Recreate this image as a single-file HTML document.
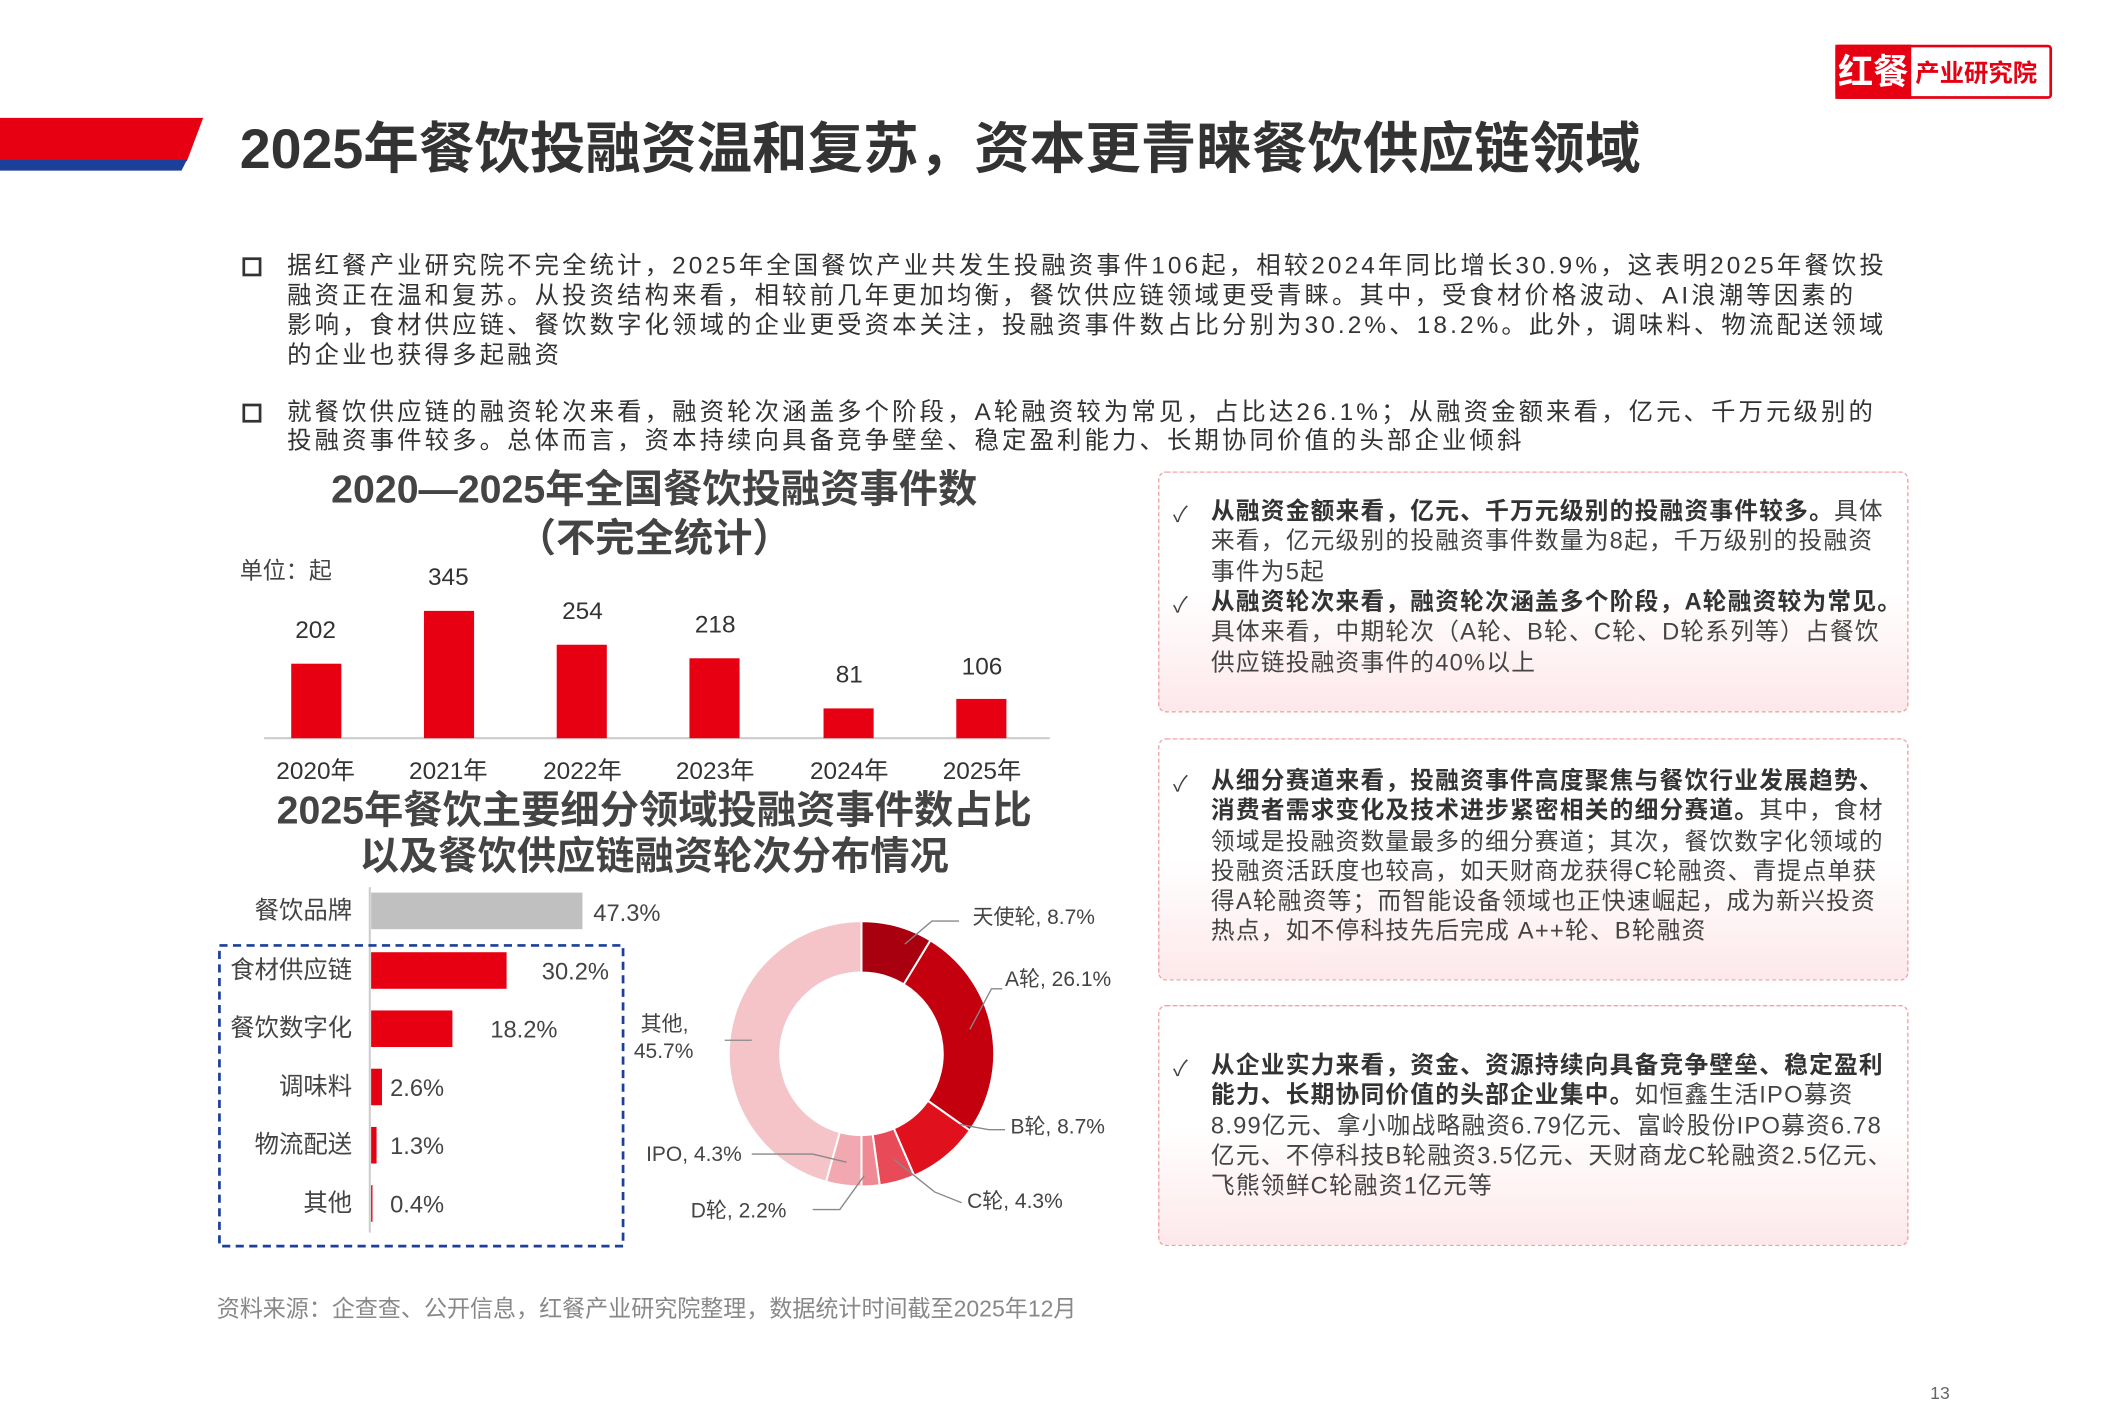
<!DOCTYPE html>
<html><head><meta charset="utf-8">
<style>
html,body{margin:0;padding:0;background:#fff;overflow:hidden}
body{width:2126px;height:1418px}
#p{position:absolute;left:0;top:0;width:1572px;height:1048px;transform:scale(1.3545);transform-origin:0 0;font-family:"Liberation Sans","Noto Sans CJK SC",sans-serif;color:#333}
.a{position:absolute;white-space:nowrap}
.para{position:absolute;left:212px;font-size:18px;letter-spacing:2.3px;line-height:22px;color:#333;white-space:nowrap}
.sq{position:absolute;left:179px;width:10px;height:10px;border:2px solid #333}
.box{position:absolute;left:855px;width:552px;border:1.5px dashed #f2a0a8;border-radius:6px;background:linear-gradient(to bottom,#fff 0%,#fff 50%,#fde8ea 100%)}
.bt{position:absolute;left:894px;font-size:17.5px;letter-spacing:0.9px;line-height:22.3px;color:#444;white-space:nowrap}
.ck{position:absolute;left:866px;font-size:16px;color:#444}
b{color:#333}
</style></head><body><div id="p">
<div class="a" style="left:1355px;top:33px;width:156px;height:36px;border:2px solid #e60012;border-radius:3px;background:#fff"></div>
<div class="a" style="left:1355px;top:33px;width:56px;height:40px;background:#e60012;color:#fff;font-weight:bold;font-size:26px;line-height:40px;text-align:center">红餐</div>
<div class="a" style="left:1414px;top:40px;font-size:18px;font-weight:bold;color:#e60012">产业研究院</div>
<svg class="a" style="left:0;top:85px" width="160" height="45"><polygon points="0,2 150,2 138,34 0,34" fill="#e60012"/><polygon points="0,33 138,33 134,41 0,41" fill="#1c3f9a"/></svg>
<div class="a" style="left:177px;top:76px;font-size:41px;font-weight:bold;color:#333">2025年餐饮投融资温和复苏，资本更青睐餐饮供应链领域</div>
<div class="sq" style="top:190px"></div>
<div class="para" style="top:185px">据红餐产业研究院不完全统计，2025年全国餐饮产业共发生投融资事件106起，相较2024年同比增长30.9%，这表明2025年餐饮投<br>融资正在温和复苏。从投资结构来看，相较前几年更加均衡，餐饮供应链领域更受青睐。其中，受食材价格波动、AI浪潮等因素的<br>影响，食材供应链、餐饮数字化领域的企业更受资本关注，投融资事件数占比分别为30.2%、18.2%。此外，调味料、物流配送领域<br>的企业也获得多起融资</div>
<div class="sq" style="top:298px"></div>
<div class="para" style="top:294px;line-height:21px">就餐饮供应链的融资轮次来看，融资轮次涵盖多个阶段，A轮融资较为常见，占比达26.1%；从融资金额来看，亿元、千万元级别的<br>投融资事件较多。总体而言，资本持续向具备竞争壁垒、稳定盈利能力、长期协同价值的头部企业倾斜</div>
<div class="a" style="left:183px;width:600px;top:344px;text-align:center;font-size:29px;font-weight:bold;color:#444;line-height:36px">2020—2025年全国餐饮投融资事件数<br>（不完全统计）</div>
<div class="a" style="left:177px;top:407px;font-size:17px;color:#444">单位：起</div>
<div class="a" style="left:183px;width:600px;top:582px;text-align:center;font-size:29px;font-weight:bold;color:#444;line-height:34px">2025年餐饮主要细分领域投融资事件数占比<br>以及餐饮供应链融资轮次分布情况</div>
<svg class="a" style="left:0;top:0" width="860" height="1032" font-family="Liberation Sans,Noto Sans CJK SC,sans-serif" fill="#333">
<line x1="195" y1="545" x2="775" y2="545" stroke="#ccc" stroke-width="1.5"/>
<g fill="#e60012">
<rect x="215" y="490" width="37" height="55"/><rect x="313" y="451" width="37" height="94"/><rect x="411" y="476" width="37" height="69"/><rect x="509" y="486" width="37" height="59"/><rect x="608" y="523" width="37" height="22"/><rect x="706" y="516" width="37" height="29"/></g>
<g font-size="18" text-anchor="middle">
<text x="233" y="471">202</text><text x="331" y="432">345</text><text x="430" y="457">254</text><text x="528" y="467">218</text><text x="627" y="504">81</text><text x="725" y="498">106</text>
<text x="233" y="575">2020年</text><text x="331" y="575">2021年</text><text x="430" y="575">2022年</text><text x="528" y="575">2023年</text><text x="627" y="575">2024年</text><text x="725" y="575">2025年</text></g>
<line x1="273" y1="655" x2="273" y2="910" stroke="#ccc" stroke-width="1.5"/>
<rect x="274" y="659" width="156" height="27" fill="#c0c0c0"/>
<g fill="#e60012"><rect x="274" y="703" width="100" height="27"/><rect x="274" y="746" width="60" height="27"/><rect x="274" y="789" width="8" height="27"/><rect x="274" y="832" width="4" height="27"/><rect x="274" y="875" width="1" height="27"/></g>
<g font-size="18" text-anchor="end" fill="#444"><text x="260" y="678">餐饮品牌</text><text x="260" y="722">食材供应链</text><text x="260" y="765">餐饮数字化</text><text x="260" y="808">调味料</text><text x="260" y="851">物流配送</text><text x="260" y="894">其他</text></g>
<g font-size="17.5" fill="#444"><text x="438" y="680">47.3%</text><text x="400" y="723">30.2%</text><text x="362" y="766">18.2%</text><text x="288" y="809">2.6%</text><text x="288" y="852">1.3%</text><text x="288" y="895">0.4%</text></g>
<rect x="162" y="698" width="298" height="222" fill="none" stroke="#1c3f9a" stroke-width="2" stroke-dasharray="6,4"/>
<g id="d" stroke="#fff" stroke-width="1.5"></g>
<g stroke="#888" stroke-width="1" fill="none">
<polyline points="668,697 688,680 708,680"/><polyline points="716,760 732,730 740,730"/><polyline points="708,830 730,834 742,834"/><polyline points="660,856 690,880 710,888"/><polyline points="638,868 620,893 600,893"/><polyline points="625,858 600,852 555,852"/><polyline points="555,768 535,768"/></g>
<g font-size="15.5" fill="#444"><text x="718" y="682">天使轮, 8.7%</text><text x="742" y="728">A轮, 26.1%</text><text x="746" y="837">B轮, 8.7%</text><text x="714" y="892">C轮, 4.3%</text><text x="510" y="899">D轮, 2.2%</text><text x="477" y="857">IPO, 4.3%</text><text x="473" y="761">其他,</text><text x="468" y="781">45.7%</text></g>
</svg>
<div class="box" style="top:348px;height:176px"></div>
<div class="box" style="top:545px;height:177px"></div>
<div class="box" style="top:742px;height:176px"></div>
<div class="ck" style="top:366px">✓</div>
<div class="bt" style="top:366px"><b>从融资金额来看，亿元、千万元级别的投融资事件较多。</b>具体<br>来看，亿元级别的投融资事件数量为8起，千万级别的投融资<br>事件为5起</div>
<div class="ck" style="top:433px">✓</div>
<div class="bt" style="top:433px"><b>从融资轮次来看，融资轮次涵盖多个阶段，A轮融资较为常见。</b><br>具体来看，中期轮次（A轮、B轮、C轮、D轮系列等）占餐饮<br>供应链投融资事件的40%以上</div>
<div class="ck" style="top:565px">✓</div>
<div class="bt" style="top:565px"><b>从细分赛道来看，投融资事件高度聚焦与餐饮行业发展趋势、<br>消费者需求变化及技术进步紧密相关的细分赛道。</b>其中，食材<br>领域是投融资数量最多的细分赛道；其次，餐饮数字化领域的<br>投融资活跃度也较高，如天财商龙获得C轮融资、青提点单获<br>得A轮融资等；而智能设备领域也正快速崛起，成为新兴投资<br>热点，如不停科技先后完成 A++轮、B轮融资</div>
<div class="ck" style="top:775px">✓</div>
<div class="bt" style="top:775px"><b>从企业实力来看，资金、资源持续向具备竞争壁垒、稳定盈利<br>能力、长期协同价值的头部企业集中。</b>如恒鑫生活IPO募资<br>8.99亿元、拿小咖战略融资6.79亿元、富岭股份IPO募资6.78<br>亿元、不停科技B轮融资3.5亿元、天财商龙C轮融资2.5亿元、<br>飞熊领鲜C轮融资1亿元等</div>
<div class="a" style="left:160px;top:952px;font-size:17px;color:#888">资料来源：企查查、公开信息，红餐产业研究院整理，数据统计时间截至2025年12月</div>
<div class="a" style="left:1425px;top:1021px;font-size:13px;color:#666">13</div>
</div>
<script>
var cx=636,cy=778,R=98,r=60,v=[[8.7,"#a8000e"],[26.1,"#c4000f"],[8.7,"#e0101c"],[4.3,"#e84a58"],[2.2,"#ef8a94"],[4.3,"#f2a8b0"],[45.7,"#f4c4c8"]],a=0,s="";
function p(ang,rad){var t=ang/100*2*Math.PI-Math.PI/2;return (cx+rad*Math.cos(t)).toFixed(2)+","+(cy+rad*Math.sin(t)).toFixed(2);}
v.forEach(function(e){var b=a+e[0],l=e[0]>50?1:0;s+='<path fill="'+e[1]+'" d="M'+p(a,R)+' A'+R+','+R+' 0 '+l+' 1 '+p(b,R)+' L'+p(b,r)+' A'+r+','+r+' 0 '+l+' 0 '+p(a,r)+' Z"/>';a=b;});
document.getElementById("d").innerHTML=s;
</script>
</body></html>
